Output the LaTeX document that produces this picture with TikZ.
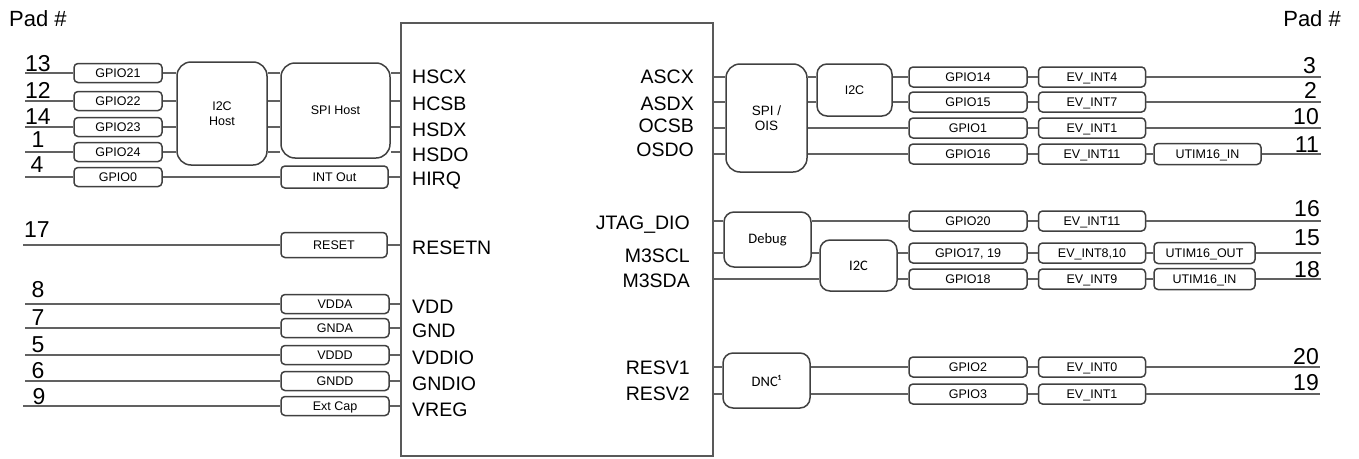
\documentclass[tikz,border=0pt]{standalone}
\usepackage{fontspec}
\setmainfont{Liberation Sans}
\newfontfamily\calfont{Carlito}
\usepackage{tikz}
\usetikzlibrary{positioning}
\tikzset{
  sigbox/.style={draw=black!75, line width=1.5pt, rounded corners=4pt, inner sep=0pt, minimum height=19pt, font=\fontsize{12.5}{12.5}\selectfont, text height=8.9pt, text depth=0pt},
  lgpiobox/.style={sigbox, minimum width=88pt},
  pwrbox/.style={sigbox, minimum width=108pt},
  gpiobox/.style={sigbox, minimum width=118pt, minimum height=20pt},
  evbox/.style={sigbox, minimum width=107pt, minimum height=20pt},
  utimbox/.style={sigbox, minimum width=101pt, minimum height=21pt},
  bigbox/.style={draw=black!75, line width=1.5pt, rounded corners=14pt, inner sep=0pt, align=center, font=\fontsize{12.5}{15}\selectfont},
  calbox/.style={draw=black!75, line width=1.5pt, rounded corners=10pt, inner sep=0pt, align=center, font=\calfont\fontsize{14.5}{14.5}\selectfont, minimum width=87pt, minimum height=55pt},
  chipbox/.style={draw=black!65, line width=2pt, inner sep=0pt},
  pinlabel/.style={inner sep=0pt, font=\fontsize{19.5}{19.5}\selectfont, text height=14pt, text depth=0pt},
  padnum/.style={inner sep=0pt, font=\fontsize{23}{23}\selectfont},
  padhead/.style={inner sep=0pt, font=\fontsize{22}{22}\selectfont},
  wire/.style={draw=black!62, line width=1.3pt}
}

\begin{document}
\begin{tikzpicture}[x=1pt, y=-1pt, node distance=10pt]
    \useasboundingbox (0,0) rectangle (1359,458);
    \node[chipbox, minimum width=312pt, minimum height=433pt] (chip) at (557,239.5) {};
    \node[padhead, anchor=base west] (padl) at (9,26) {Pad \#};
    \node[padhead, anchor=base east] (padr) at (1341,26) {Pad \#};

    \node[lgpiobox] (g21) at (118,73) {GPIO21};
    \node[lgpiobox] (g22) at (118,101) {GPIO22};
    \node[lgpiobox] (g23) at (118,127) {GPIO23};
    \node[lgpiobox] (g24) at (118,152) {GPIO24};
    \node[lgpiobox] (g0) at (118,177) {GPIO0};
    \node[bigbox, minimum width=90pt, minimum height=103pt] (i2ch) at (222,113.5) {I2C\\Host};
    \node[bigbox, minimum width=109pt, minimum height=95pt] (spih) at (335.5,110.5) {SPI Host};
    \node[sigbox, minimum width=107pt, minimum height=22pt] (intout) at (334.5,177) {INT Out};
    \node[sigbox, minimum width=106pt, minimum height=25pt] (rst) at (334,245) {RESET};
    \node[pwrbox] (vdda) at (335,304) {VDDA};
    \node[pwrbox] (gnda) at (335,328) {GNDA};
    \node[pwrbox] (vddd) at (335,355) {VDDD};
    \node[pwrbox] (gndd) at (335,381) {GNDD};
    \node[pwrbox] (extcap) at (335,406) {Ext Cap};

    \coordinate (p13) at (25,73);
    \coordinate (p12) at (25,101);
    \coordinate (p14) at (25,127);
    \coordinate (p1) at (25,152);
    \coordinate (p4) at (25,177);
    \coordinate (p17) at (23,245);
    \coordinate (p8) at (25,304);
    \coordinate (p7) at (25,328);
    \coordinate (p5) at (25,355);
    \coordinate (p6) at (25,381);
    \coordinate (p9) at (23,406);
    \node[padnum, anchor=base] (n13) at (38,71) {13};
    \node[padnum, anchor=base] (n12) at (38,98) {12};
    \node[padnum, anchor=base] (n14) at (38,124) {14};
    \node[padnum, anchor=base] (n1) at (38,147) {1};
    \node[padnum, anchor=base] (n4) at (37,172) {4};
    \node[padnum, anchor=base] (n17) at (37,237) {17};
    \node[padnum, anchor=base] (n8) at (38,297) {8};
    \node[padnum, anchor=base] (n7) at (38,325) {7};
    \node[padnum, anchor=base] (n5) at (38,352) {5};
    \node[padnum, anchor=base] (n6) at (38,378) {6};
    \node[padnum, anchor=base] (n9) at (39,404) {9};

    \node[pinlabel, anchor=west] (hscx) at (412,76) {HSCX};
    \node[pinlabel, anchor=west] (hcsb) at (412,103) {HCSB};
    \node[pinlabel, anchor=west] (hsdx) at (412,129) {HSDX};
    \node[pinlabel, anchor=west] (hsdo) at (412,154) {HSDO};
    \node[pinlabel, anchor=west] (hirq) at (412,178) {HIRQ};
    \node[pinlabel, anchor=west] (resetn) at (412,247) {RESETN};
    \node[pinlabel, anchor=west] (vdd) at (412,306) {VDD};
    \node[pinlabel, anchor=west] (gnd) at (412,330) {GND};
    \node[pinlabel, anchor=west] (vddio) at (412,357) {VDDIO};
    \node[pinlabel, anchor=west] (gndio) at (412,383) {GNDIO};
    \node[pinlabel, anchor=west] (vreg) at (412,409) {VREG};

    \draw[wire] (p13) -- (g21);
    \draw[wire] (p12) -- (g22);
    \draw[wire] (p14) -- (g23);
    \draw[wire] (p1) -- (g24);
    \draw[wire] (p4) -- (g0);
    \draw[wire] (g21) -- (g21 -| i2ch.west);
    \draw[wire] (g22) -- (g22 -| i2ch.west);
    \draw[wire] (g23) -- (g23 -| i2ch.west);
    \draw[wire] (g24) -- (g24 -| i2ch.west);
    \draw[wire] (i2ch.east |- g21) -- (spih.west |- g21);
    \draw[wire] (i2ch.east |- g22) -- (spih.west |- g22);
    \draw[wire] (i2ch.east |- g23) -- (spih.west |- g23);
    \draw[wire] (i2ch.east |- g24) -- (spih.west |- g24);
    \draw[wire] (spih.east |- g21) -- (chip.west |- g21);
    \draw[wire] (spih.east |- g22) -- (chip.west |- g22);
    \draw[wire] (spih.east |- g23) -- (chip.west |- g23);
    \draw[wire] (spih.east |- g24) -- (chip.west |- g24);
    \draw[wire] (g0) -- (intout);
    \draw[wire] (intout) -- (chip.west |- intout);
    \draw[wire] (p17) -- (rst);
    \draw[wire] (rst) -- (chip.west |- rst);
    \draw[wire] (p8) -- (vdda);
    \draw[wire] (p7) -- (gnda);
    \draw[wire] (p5) -- (vddd);
    \draw[wire] (p6) -- (gndd);
    \draw[wire] (p9) -- (extcap);
    \draw[wire] (vdda) -- (chip.west |- vdda);
    \draw[wire] (gnda) -- (chip.west |- gnda);
    \draw[wire] (vddd) -- (chip.west |- vddd);
    \draw[wire] (gndd) -- (chip.west |- gndd);
    \draw[wire] (extcap) -- (chip.west |- extcap);

    \node[pinlabel, anchor=east] (ascx) at (694,76) {ASCX};
    \node[pinlabel, anchor=east] (asdx) at (694,103) {ASDX};
    \node[pinlabel, anchor=east] (ocsb) at (694,125) {OCSB};
    \node[pinlabel, anchor=east] (osdo) at (694,149) {OSDO};
    \node[pinlabel, anchor=east] (jtag) at (690,222) {JTAG\_DIO};
    \node[pinlabel, anchor=east] (m3scl) at (690,255) {M3SCL};
    \node[pinlabel, anchor=east] (m3sda) at (690,280) {M3SDA};
    \node[pinlabel, anchor=east] (resv1) at (690,367) {RESV1};
    \node[pinlabel, anchor=east] (resv2) at (690,393) {RESV2};

    \node[bigbox, font=\fontsize{13.5}{15.5}\selectfont, minimum width=81pt, minimum height=108pt] (spio) at (766.5,118) {SPI /\\OIS};
    \node[bigbox, rounded corners=10pt, minimum width=75pt, minimum height=52pt] (i2ca) at (854.5,90) {I2C};
    \node[calbox] (dbg) at (767.5,239.5) {Debug};
    \node[calbox, minimum width=77pt, minimum height=51pt] (i2cb) at (858.5,265.5) {I2C};
    \node[calbox] (dnc) at (766.5,380.5) {DNC¹};

    \node[gpiobox] (g14) at (968,77) {GPIO14};
    \node[gpiobox] (g15) at (968,102) {GPIO15};
    \node[gpiobox] (g1) at (968,128) {GPIO1};
    \node[gpiobox] (g16) at (968,154) {GPIO16};
    \node[gpiobox] (g20) at (968,221) {GPIO20};
    \node[gpiobox] (g1719) at (968,253) {GPIO17, 19};
    \node[gpiobox] (g18) at (968,279) {GPIO18};
    \node[gpiobox] (g2) at (968,367) {GPIO2};
    \node[gpiobox] (g3) at (968,394) {GPIO3};
    \node[evbox, right=of g14] (ev4) {EV\_INT4};
    \node[evbox, right=of g15] (ev7) {EV\_INT7};
    \node[evbox, right=of g1] (ev1a) {EV\_INT1};
    \node[evbox, right=of g16] (ev11a) {EV\_INT11};
    \node[evbox, right=of g20] (ev11b) {EV\_INT11};
    \node[evbox, right=of g1719] (ev810) {EV\_INT8,10};
    \node[evbox, right=of g18] (ev9) {EV\_INT9};
    \node[evbox, right=of g2] (ev0) {EV\_INT0};
    \node[evbox, right=of g3] (ev1b) {EV\_INT1};
    \node[utimbox, minimum width=107pt, right=7pt of ev11a] (ut1) {UTIM16\_IN};
    \node[utimbox, right=7pt of ev810] (ut2) {UTIM16\_OUT};
    \node[utimbox, right=7pt of ev9] (ut3) {UTIM16\_IN};

    \coordinate (p3) at (1321,77);
    \coordinate (p2) at (1321,102);
    \coordinate (p10) at (1321,128);
    \coordinate (p11) at (1321,154);
    \coordinate (p16) at (1321,221);
    \coordinate (p15) at (1321,253);
    \coordinate (p18) at (1321,279);
    \coordinate (p20) at (1320,367);
    \coordinate (p19) at (1320,394);
    \node[padnum, anchor=base east] (n3) at (1316,73) {3};
    \node[padnum, anchor=base east] (n2) at (1317,98) {2};
    \node[padnum, anchor=base east] (n10) at (1319,124) {10};
    \node[padnum, anchor=base east] (n11) at (1319,152) {11};
    \node[padnum, anchor=base east] (n16) at (1320,216) {16};
    \node[padnum, anchor=base east] (n15) at (1320,245) {15};
    \node[padnum, anchor=base east] (n18) at (1320,277) {18};
    \node[padnum, anchor=base east] (n20) at (1319,364) {20};
    \node[padnum, anchor=base east] (n19) at (1319,390) {19};

    \draw[wire] (chip.east |- g14) -- (spio.west |- g14);
    \draw[wire] (chip.east |- g15) -- (spio.west |- g15);
    \draw[wire] (chip.east |- g1) -- (spio.west |- g1);
    \draw[wire] (chip.east |- g16) -- (spio.west |- g16);
    \draw[wire] (spio.east |- g14) -- (i2ca.west |- g14);
    \draw[wire] (spio.east |- g15) -- (i2ca.west |- g15);
    \draw[wire] (i2ca.east |- g14) -- (g14);
    \draw[wire] (i2ca.east |- g15) -- (g15);
    \draw[wire] (spio.east |- g1) -- (g1);
    \draw[wire] (spio.east |- g16) -- (g16);
    \draw[wire] (chip.east |- g20) -- (dbg.west |- g20);
    \draw[wire] (chip.east |- g1719) -- (dbg.west |- g1719);
    \draw[wire] (chip.east |- g18) -- (i2cb.west |- g18);
    \draw[wire] (dbg.east |- g20) -- (g20);
    \draw[wire] (dbg.east |- g1719) -- (i2cb.west |- g1719);
    \draw[wire] (i2cb.east |- g1719) -- (g1719);
    \draw[wire] (i2cb.east |- g18) -- (g18);
    \draw[wire] (chip.east |- g2) -- (dnc.west |- g2);
    \draw[wire] (chip.east |- g3) -- (dnc.west |- g3);
    \draw[wire] (dnc.east |- g2) -- (g2);
    \draw[wire] (dnc.east |- g3) -- (g3);
    \draw[wire] (g14) -- (ev4);
    \draw[wire] (g15) -- (ev7);
    \draw[wire] (g1) -- (ev1a);
    \draw[wire] (g16) -- (ev11a);
    \draw[wire] (g20) -- (ev11b);
    \draw[wire] (g1719) -- (ev810);
    \draw[wire] (g18) -- (ev9);
    \draw[wire] (g2) -- (ev0);
    \draw[wire] (g3) -- (ev1b);
    \draw[wire] (ev11a) -- (ut1);
    \draw[wire] (ev810) -- (ut2);
    \draw[wire] (ev9) -- (ut3);
    \draw[wire] (ev4) -- (p3);
    \draw[wire] (ev7) -- (p2);
    \draw[wire] (ev1a) -- (p10);
    \draw[wire] (ut1) -- (p11);
    \draw[wire] (ev11b) -- (p16);
    \draw[wire] (ut2) -- (p15);
    \draw[wire] (ut3) -- (p18);
    \draw[wire] (ev0) -- (p20);
    \draw[wire] (ev1b) -- (p19);
\end{tikzpicture}
\end{document}
